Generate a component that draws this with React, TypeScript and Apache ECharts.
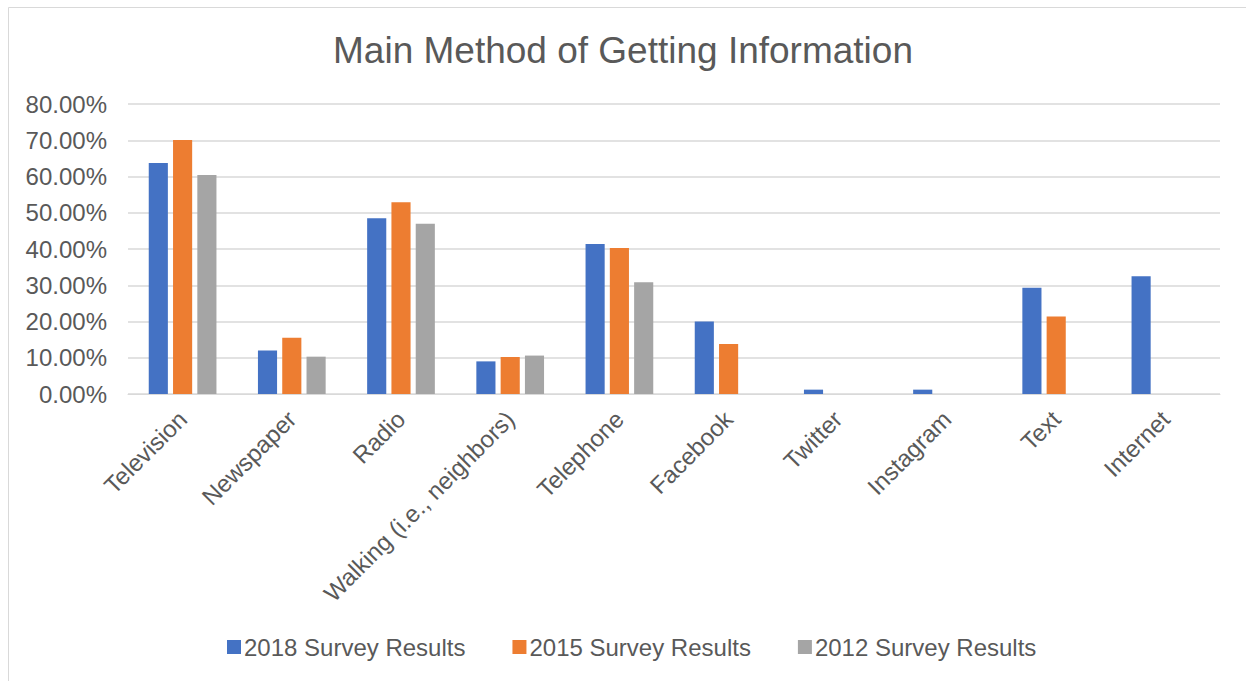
import React, { useEffect, useRef } from "react";
import * as echarts from "echarts";

const categories = [
  "Television",
  "Newspaper",
  "Radio",
  "Walking (i.e., neighbors)",
  "Telephone",
  "Facebook",
  "Twitter",
  "Instagram",
  "Text",
  "Internet",
];
const s2018 = [63.7, 12.0, 48.5, 9.0, 41.4, 20.0, 1.2, 1.2, 29.3, 32.5];
const s2015 = [70.1, 15.5, 52.9, 10.2, 40.3, 13.8, 0, 0, 21.4, 0];
const s2012 = [60.4, 10.3, 47.0, 10.6, 30.8, 0, 0, 0, 0, 0];
const seriesNames = ["2018 Survey Results", "2015 Survey Results", "2012 Survey Results"];
const colors = ["#4472C4", "#ED7D31", "#A5A5A5"];

export default function App() {
  const ref = useRef<HTMLDivElement>(null);
  useEffect(() => {
    if (!ref.current) return;
    const chart = echarts.init(ref.current, undefined, { renderer: "svg" });
    const font = "Liberation Sans, Arial, sans-serif";
    const data = [s2018, s2015, s2012];
    chart.setOption({
      animation: false,
      backgroundColor: "#ffffff",
      color: colors,
      textStyle: { fontFamily: font },
      title: {
        text: "Main Method of Getting Information",
        left: "center",
        top: 27,
        textStyle: { fontFamily: font, fontSize: 37, fontWeight: "normal", color: "#595959" },
      },
      graphic: [
        {
          type: "rect",
          shape: { x: 8.5, y: 7.5, width: 1300, height: 700 },
          style: { fill: "none", stroke: "#D9D9D9", lineWidth: 1 },
          silent: true,
        },
      ],
      legend: {
        bottom: 17,
        left: 222,
        itemWidth: 14,
        itemHeight: 14,
        itemGap: 47,
        icon: "rect",
        textStyle: { fontFamily: font, fontSize: 24, color: "#595959", padding: [0, 0, 0, -2] },
        data: seriesNames,
      },
      grid: { left: 128, right: 26, top: 104, bottom: 287, containLabel: false },
      xAxis: {
        type: "category",
        data: categories,
        axisLine: { lineStyle: { color: "#D9D9D9", width: 1 } },
        axisTick: { show: false },
        axisLabel: {
          rotate: 45,
          interval: 0,
          margin: 21,
          fontFamily: font,
          fontSize: 24,
          color: "#595959",
        },
      },
      yAxis: {
        type: "value",
        min: 0,
        max: 80,
        interval: 10,
        axisLine: { show: false },
        axisTick: { show: false },
        splitLine: { lineStyle: { color: "#D9D9D9", width: 1.5 } },
        axisLabel: {
          margin: 21,
          fontFamily: font,
          fontSize: 24,
          color: "#595959",
          formatter: (v: number) => v.toFixed(2) + "%",
        },
      },
      series: seriesNames.map((name, i) => ({
        name,
        type: "bar",
        data: data[i],
        barGap: "27%",
        barCategoryGap: "38%",
        itemStyle: { color: colors[i] },
      })),
    });
    return () => chart.dispose();
  }, []);
  return (
    <div
      ref={ref}
      style={{ position: "fixed", left: 0, top: 0, width: 1246, height: 681 }}
    />
  );
}
